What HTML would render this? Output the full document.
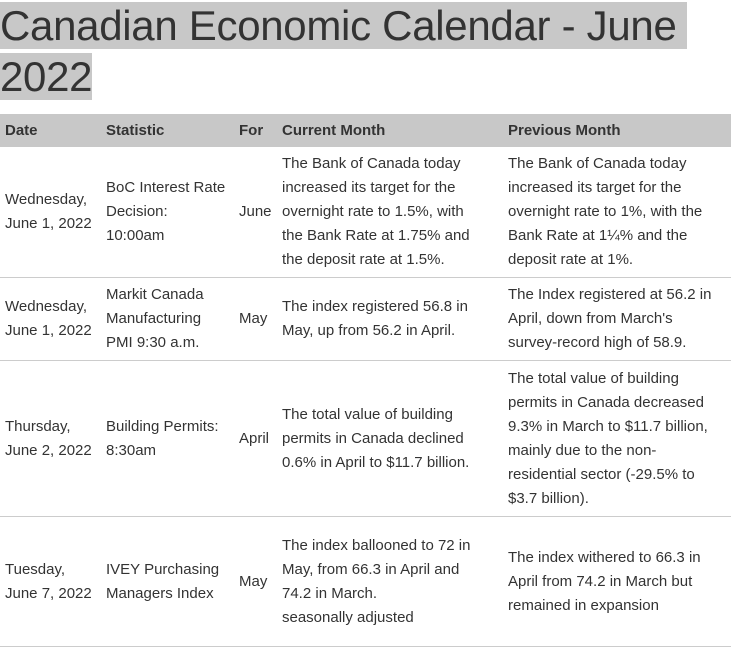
<!DOCTYPE html>
<html><head><style>
body{margin:0;background:#fff;font-family:"Liberation Sans",sans-serif;color:#333;overflow:hidden;width:736px;height:565px}
h1{margin:0;font-weight:normal;font-size:42px;line-height:51px;width:720px;letter-spacing:-0.3px}
h1 span{background:#c8c8c8;padding-right:10px}
table{border-collapse:collapse;table-layout:fixed;width:731px;margin-top:12px;font-size:15px;}
th{background:#c8c8c8;text-align:left;font-weight:bold;height:33px;padding:0 5px;}
td{padding:5px 5px;line-height:24px;vertical-align:middle;white-space:nowrap;border-bottom:1px solid #ccc;}
</style></head><body>
<h1><span>Canadian Economic Calendar - June</span><br><span style="padding-right:0">2022</span></h1>
<table>
<colgroup><col style="width:101px"><col style="width:133px"><col style="width:43px"><col style="width:226px"><col style="width:228px"></colgroup>
<tr><th>Date</th><th>Statistic</th><th>For</th><th>Current Month</th><th>Previous Month</th></tr>
<tr style="height:130px"><td>Wednesday,<br>June 1, 2022</td><td>BoC Interest Rate<br>Decision:<br>10:00am</td><td>June</td><td>The Bank of Canada today<br>increased its target for the<br>overnight rate to 1.5%, with<br>the Bank Rate at 1.75% and<br>the deposit rate at 1.5%.</td><td>The Bank of Canada today<br>increased its target for the<br>overnight rate to 1%, with the<br>Bank Rate at 1¼% and the<br>deposit rate at 1%.</td></tr>
<tr style="height:82px"><td>Wednesday,<br>June 1, 2022</td><td>Markit Canada<br>Manufacturing<br>PMI 9:30 a.m.</td><td>May</td><td>The index registered 56.8 in<br>May, up from 56.2 in April.</td><td>The Index registered at 56.2 in<br>April, down from March's<br>survey-record high of 58.9.</td></tr>
<tr style="height:156px"><td>Thursday,<br>June 2, 2022</td><td>Building Permits:<br>8:30am</td><td>April</td><td>The total value of building<br>permits in Canada declined<br>0.6% in April to $11.7 billion.</td><td>The total value of building<br>permits in Canada decreased<br>9.3% in March to $11.7 billion,<br>mainly due to the non-<br>residential sector (-29.5% to<br>$3.7 billion).</td></tr>
<tr style="height:130px"><td>Tuesday,<br>June 7, 2022</td><td>IVEY Purchasing<br>Managers Index</td><td>May</td><td>The index ballooned to 72 in<br>May, from 66.3 in April and<br>74.2 in March.<br>seasonally adjusted</td><td>The index withered to 66.3 in<br>April from 74.2 in March but<br>remained in expansion</td></tr>
</table>
</body></html>
